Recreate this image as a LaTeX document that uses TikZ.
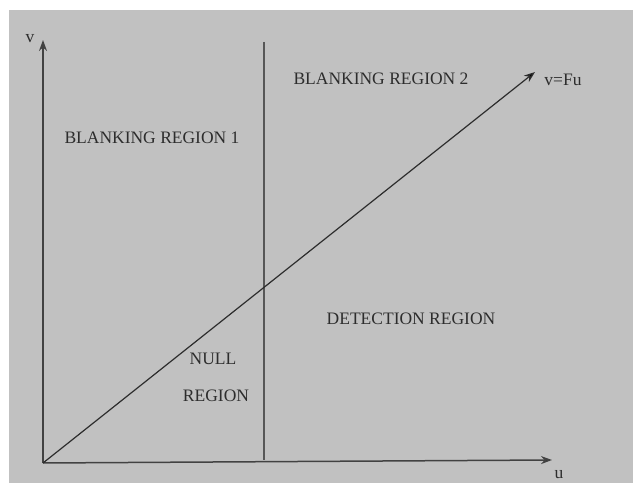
\documentclass[tikz,border=0pt]{standalone}
\usepackage{fontspec}
\setmainfont{Liberation Serif}
\usetikzlibrary{arrows.meta}
\definecolor{bggray}{RGB}{193,193,193}
\definecolor{ink}{RGB}{45,45,45}
\begin{document}
\begin{tikzpicture}[x=1pt,y=-1pt,
  lbl/.style={font=\fontsize{17.5}{20}\selectfont, text=ink, inner sep=0pt},
  axis/.style={draw=ink!90, line width=1.5pt, -{Stealth[length=11pt,width=8pt,fill=black]}},
  diag/.style={draw=ink, line width=1.2pt, -{Stealth[length=11pt,width=8pt,fill=black]}},
  divider/.style={draw=ink!80, line width=1.3pt}]
\useasboundingbox (0,0) rectangle (633,487);
\fill[bggray] (9,10) rectangle (633,483);
\coordinate (O) at (43,463);
\coordinate (Y) at (43,40);
\coordinate (X) at (552,460);
\coordinate (D) at (535,72);
\coordinate (Vt) at (264,42);
\coordinate (Vb) at (264,460);
\draw[divider] (Vt) -- (Vb);
\draw[axis] (O) -- (Y);
\draw[axis] (O) -- (X);
\draw[diag] (O) -- (D);
\node[lbl] (vlab) at (30,39) {v};
\node[lbl] (ulab) at (559,475) {u};
\node[lbl] (flab) at (563,80) {v=Fu};
\node[lbl] (b2) at (381,79) {BLANKING REGION 2};
\node[lbl] (b1) at (152,138) {BLANKING REGION 1};
\node[lbl] (det) at (411,319) {DETECTION REGION};
\node[lbl] (null) at (213,359) {NULL};
\node[lbl] (reg) at (216,396) {REGION};
\end{tikzpicture}
\end{document}
